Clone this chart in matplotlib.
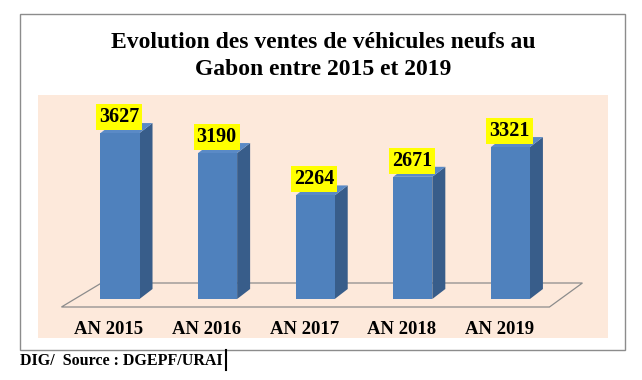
import matplotlib
matplotlib.use("Agg")
import matplotlib.pyplot as plt
from matplotlib.patches import Rectangle, Polygon
from matplotlib.lines import Line2D

categories = ["AN 2015", "AN 2016", "AN 2017", "AN 2018", "AN 2019"]
values = [3627, 3190, 2264, 2671, 3321]
title = "Evolution des ventes de véhicules neufs au\nGabon entre 2015 et 2019"
source = "DIG/  Source : DGEPF/URAI"

W, H, DPI = 642, 380, 100
fig = plt.figure(figsize=(W / DPI, H / DPI), dpi=DPI)
fig.patch.set_facecolor("white")
serif = ["Liberation Serif", "DejaVu Serif"]

def fx(px):
    return px / W

def fy(py):
    return 1 - py / H

# outer frame
fig.add_artist(Rectangle((fx(20), fy(350)), fx(605), 336 / H, transform=fig.transFigure,
                         facecolor="white", edgecolor="#8c8c8c", lw=1.0, zorder=0))
# plot area background
fig.add_artist(Rectangle((fx(38), fy(338)), fx(570), 243 / H, transform=fig.transFigure,
                         facecolor="#fde9db", edgecolor="none", zorder=0.5))

fig.text(fx(323), fy(56), title, ha="center", va="center", fontsize=17, fontweight="bold",
         family=serif, linespacing=1.4)
fig.text(fx(20), fy(361), source, ha="left", va="center", fontsize=11.5, fontweight="bold",
         family=serif)
fig.add_artist(Line2D([fx(226), fx(226)], [fy(370), fy(350)], transform=fig.transFigure,
                      color="black", lw=1.5))

ax = fig.add_axes([fx(71.2), fy(299), 488 / W, 183 / H])
ax.set_zorder(3)
ax.set_xlim(-0.5, len(categories) - 0.5)
ax.set_ylim(0, 4000)
ax.axis("off")
ax.patch.set_alpha(0)

xs = list(range(len(categories)))
bw = 0.40
dx, dy = 13, 10  # depth offset in pixels

fig.canvas.draw()
T = ax.transData

def disp(x, y):
    return T.transform((x, y))

# floor
fl = disp(-0.6, 0)
fr = disp(len(categories) - 0.6, 0)
front_y = fl[1] - 8
floor_pts = [(fl[0], front_y), (fr[0], front_y), (fr[0] + 33, front_y + 24), (fl[0] + 40, front_y + 24)]
fig.add_artist(Polygon(floor_pts, closed=True, transform=None, facecolor="none",
                       edgecolor="#8c8c8c", lw=0.9, zorder=1))

front_c = "#4f81bd"
side_c = "#385d8a"
top_c = "#5a8ac6"
for x, v in zip(xs, values):
    x0, x1 = x - bw / 2, x + bw / 2
    bl, br = disp(x0, 0), disp(x1, 0)
    tl, tr = disp(x0, v), disp(x1, v)
    side = [tuple(br), tuple(tr), (tr[0] + dx, tr[1] + dy), (br[0] + dx, br[1] + dy)]
    top = [tuple(tl), tuple(tr), (tr[0] + dx, tr[1] + dy), (tl[0] + dx, tl[1] + dy)]
    fig.add_artist(Polygon(side, closed=True, transform=None, facecolor=side_c, edgecolor="none", zorder=2))
    fig.add_artist(Polygon(top, closed=True, transform=None, facecolor=top_c, edgecolor="none", zorder=2))
    ax.bar(x, v, width=bw, color=front_c, edgecolor="none", zorder=3)
    ax.annotate(f"{v}", (x, v), xytext=(-1, 16), textcoords="offset pixels", ha="center", va="center",
                fontsize=14.5, fontweight="bold", family=serif, zorder=5,
                bbox=dict(boxstyle="square,pad=0.15", facecolor="#ffff00", edgecolor="none"))
    ax.annotate(categories[xs.index(x)], (x, 0), xytext=(-11, -31), textcoords="offset pixels",
                ha="center", va="center", fontsize=13.5, fontweight="bold", family=serif,
                annotation_clip=False)

fig.savefig("out.png", dpi=DPI)
